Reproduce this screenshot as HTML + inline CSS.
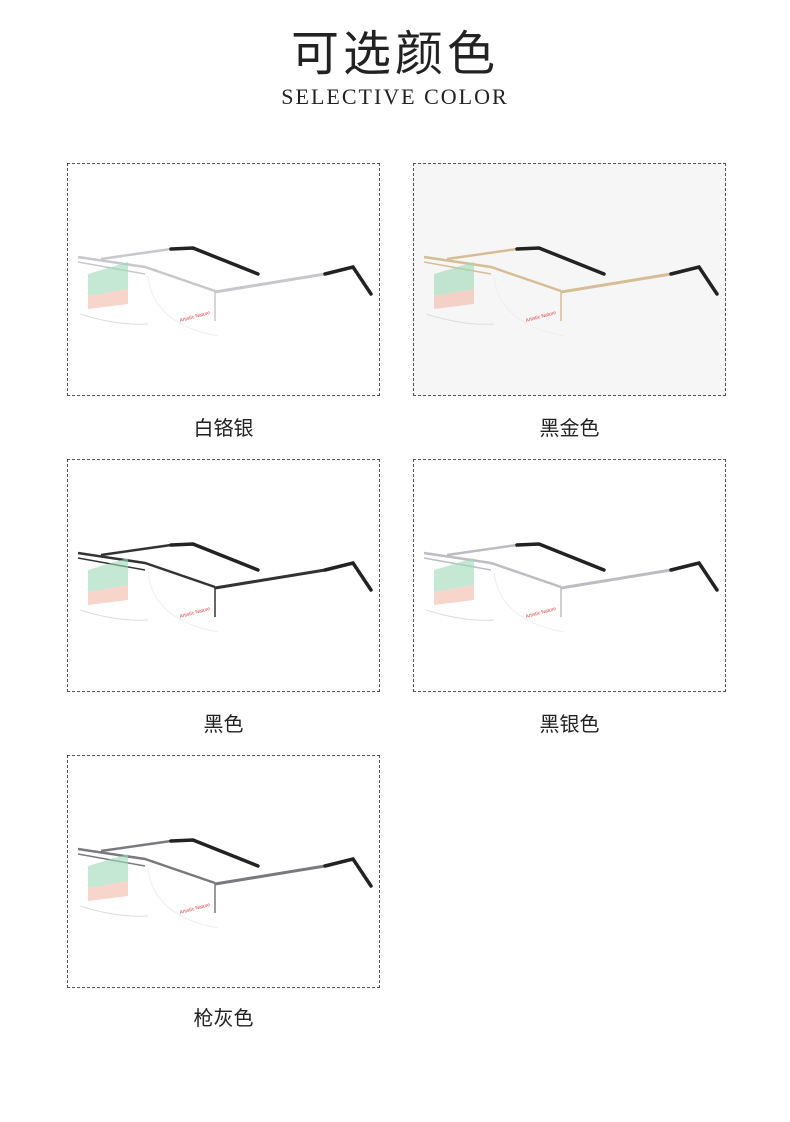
<!DOCTYPE html>
<html><head><meta charset="utf-8"><style>
body{margin:0;width:790px;height:1122px;background:#fff;position:relative;font-family:"Liberation Sans","Noto Sans CJK SC",sans-serif;overflow:hidden}
.t{position:absolute;left:0;width:790px;text-align:center;color:#222}
.box{position:absolute;width:311px;height:231px;border:1px dashed #555;background:#fff}
.lbl{position:absolute;width:313px;text-align:center;font-size:20px;color:#222}
svg{position:absolute;left:0;top:0}
</style></head><body>
<div class="t" style="top:14px;font-size:48px;letter-spacing:4px">可选颜色</div>
<div class="t" style="top:84px;font-family:'Liberation Serif',serif;font-size:22px;letter-spacing:2px">SELECTIVE COLOR</div>

<svg width="0" height="0" style="position:absolute"><defs>
<g id="g">
<path d="M33 95 L103 85" stroke="currentColor" stroke-width="2.5" fill="none"/>
<path d="M103 85 L125 84 L190 110" stroke="#222" stroke-width="3.5" fill="none" stroke-linecap="round"/>
<path d="M10 93 L77 103 L147 127" stroke="currentColor" stroke-width="2.5" fill="none"/>
<path d="M10 98 L77 110" stroke="currentColor" stroke-width="1.5" fill="none"/>
<path d="M147 127 L147 157" stroke="currentColor" stroke-width="1.5" fill="none"/>
<path d="M147 128 L257 110" stroke="currentColor" stroke-width="3" fill="none"/>
<path d="M257 110 L285 103 L303 130" stroke="#222" stroke-width="3.5" fill="none" stroke-linecap="round"/>
<path d="M12 150 Q50 162 80 160" stroke="#ddd" stroke-width="1" fill="none"/>
<path d="M80 112 Q85 160 150 172" stroke="#eee" stroke-width="1" fill="none"/>
<polygon points="20,110 60,98 60,125 20,132" fill="#9fd8b8" opacity=".6"/>
<polygon points="20,132 60,125 60,140 20,145" fill="#f4b9a8" opacity=".6"/>
<text x="112" y="158" font-size="5" fill="#d44" transform="rotate(-15 112 158)">Artistic Nature</text>
</g></defs></svg>

<div class="box" style="left:67px;top:163px"><svg width="313" height="233" color="#c8c8cc"><use href="#g"/></svg></div>
<div class="box" style="left:413px;top:163px;background:#f6f6f6"><svg width="313" height="233" color="#d6bd95"><use href="#g"/></svg></div>
<div class="box" style="left:67px;top:459px"><svg width="313" height="233" color="#333"><use href="#g"/></svg></div>
<div class="box" style="left:413px;top:459px"><svg width="313" height="233" color="#bcbcc2"><use href="#g"/></svg></div>
<div class="box" style="left:67px;top:755px"><svg width="313" height="233" color="#7a7a7e"><use href="#g"/></svg></div>

<div class="lbl" style="left:67px;top:412px">白铬银</div>
<div class="lbl" style="left:413px;top:412px">黑金色</div>
<div class="lbl" style="left:67px;top:708px">黑色</div>
<div class="lbl" style="left:413px;top:708px">黑银色</div>
<div class="lbl" style="left:67px;top:1002px">枪灰色</div>
</body></html>
